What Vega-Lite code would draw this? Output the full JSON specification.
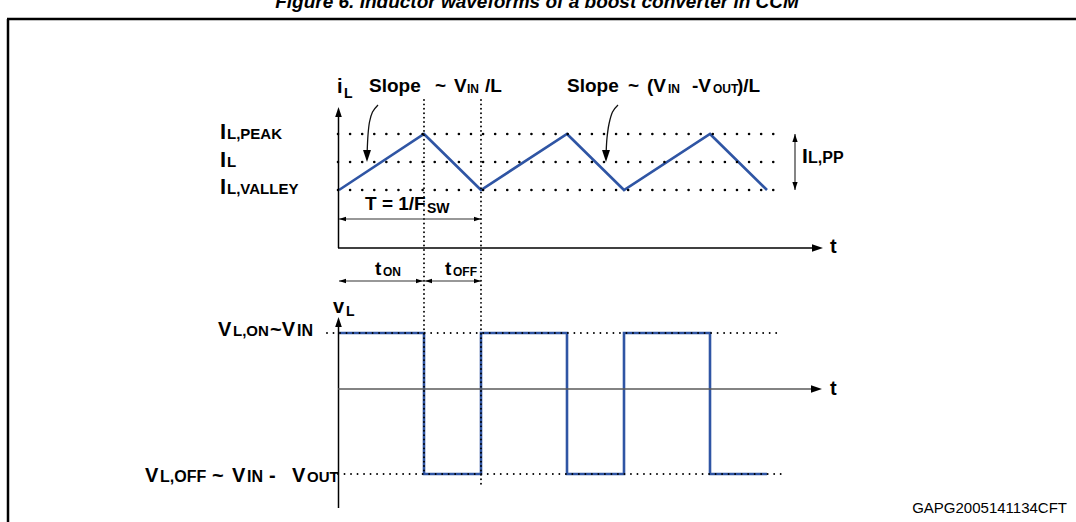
{
 "$schema": "https://vega.github.io/schema/vega-lite/v6.json",
 "width": 1076, "height": 522, "autosize": "none", "padding": 0,
 "background": "white",
 "config": {"view": {"stroke": null}},
 "datasets": {
  "frame": [{"x":7,"x2":1076,"y":19,"y2":19},{"x":8,"x2":8,"y":19,"y2":522}],
  "tri": [{"o":0,"x":339,"y":190},{"o":1,"x":424,"y":134},{"o":2,"x":481,"y":190},{"o":3,"x":567,"y":134},{"o":4,"x":624,"y":190},{"o":5,"x":710,"y":134},{"o":6,"x":767,"y":190}],
  "sq": [{"o":0,"x":339,"y":333},{"o":1,"x":424,"y":333},{"o":2,"x":424,"y":474},{"o":3,"x":481,"y":474},{"o":4,"x":481,"y":333},{"o":5,"x":567,"y":333},{"o":6,"x":567,"y":474},{"o":7,"x":624,"y":474},{"o":8,"x":624,"y":333},{"o":9,"x":710,"y":333},{"o":10,"x":710,"y":474},{"o":11,"x":767,"y":474}],
  "dotsBig": [{"x":338,"x2":773.5,"y":134,"y2":134},{"x":338,"x2":773.5,"y":162,"y2":162},{"x":338,"x2":773.5,"y":190,"y2":190}],
  "dotsV": [{"x":424,"x2":424,"y":100,"y2":474},{"x":481,"x2":481,"y":100,"y2":488}],
  "dotsLow": [{"x":327,"x2":782,"y":333,"y2":333},{"x":338,"x2":782,"y":474,"y2":474}],
  "axes": [{"x":338.5,"x2":338.5,"y":248,"y2":112},{"x":338,"x2":814,"y":248,"y2":248},{"x":338.5,"x2":338.5,"y":508,"y2":322}],
  "gaxis": [{"x":338,"x2":814,"y":389,"y2":389}],
  "dim": [{"x":339,"x2":481,"y":219,"y2":219},{"x":339,"x2":424,"y":281,"y2":281},{"x":424,"x2":481,"y":281,"y2":281},{"x":795,"x2":795,"y":134,"y2":190}],
  "curves": [
   {"g":1,"o":0,"x":378,"y":105},{"g":1,"o":1,"x":372.5,"y":112},{"g":1,"o":2,"x":369.5,"y":122},{"g":1,"o":3,"x":368,"y":135},{"g":1,"o":4,"x":367.2,"y":151},
   {"g":2,"o":0,"x":618,"y":105},{"g":2,"o":1,"x":612.5,"y":112},{"g":2,"o":2,"x":609,"y":124},{"g":2,"o":3,"x":607,"y":138},{"g":2,"o":4,"x":606.2,"y":151}
  ],
  "heads": [
   {"x":338.5,"y":107,"a":0,"s":100},
   {"x":823,"y":248,"a":90,"s":121},
   {"x":338.5,"y":317,"a":0,"s":100},
   {"x":822,"y":389,"a":90,"s":121},
   {"x":339,"y":219,"a":270,"s":49},
   {"x":481,"y":219,"a":90,"s":49},
   {"x":339,"y":281,"a":270,"s":49},
   {"x":423,"y":281,"a":90,"s":49},
   {"x":425,"y":281,"a":270,"s":49},
   {"x":481,"y":281,"a":90,"s":49},
   {"x":795,"y":134,"a":0,"s":64},
   {"x":795,"y":190,"a":180,"s":64},
   {"x":367,"y":162,"a":180,"s":144},
   {"x":606,"y":162,"a":180,"s":144}
  ],
  "texts": [
   {"t":"i","x":337,"y":93,"s":20},
   {"t":"L","x":344,"y":98,"s":14},
   {"t":"Slope","x":369,"y":92,"s":19},
   {"t":"~","x":435,"y":92,"s":19},
   {"t":"V","x":454,"y":92,"s":19},
   {"t":"IN","x":467,"y":93,"s":12},
   {"t":"/L","x":485,"y":92,"s":19},
   {"t":"Slope","x":567,"y":92,"s":19},
   {"t":"~","x":628,"y":92,"s":19},
   {"t":"(V","x":647,"y":92,"s":19},
   {"t":"IN","x":668,"y":93,"s":12},
   {"t":"-V","x":692,"y":92,"s":19},
   {"t":"OUT","x":713,"y":93,"s":12},
   {"t":")/L","x":737,"y":92,"s":19},
   {"t":"I","x":220,"y":139,"s":22},
   {"t":"L,PEAK","x":227,"y":139,"s":15},
   {"t":"I","x":220,"y":167,"s":22},
   {"t":"L","x":227,"y":167,"s":15},
   {"t":"I","x":220,"y":194,"s":22},
   {"t":"L,VALLEY","x":227,"y":194,"s":15},
   {"t":"T = 1/F","x":365,"y":210,"s":19},
   {"t":"SW","x":427,"y":213,"s":14},
   {"t":"I","x":802,"y":163,"s":21},
   {"t":"L,PP","x":808,"y":163,"s":16},
   {"t":"t","x":830,"y":253,"s":20},
   {"t":"t","x":830,"y":395,"s":20},
   {"t":"t","x":375,"y":275,"s":19},
   {"t":"ON","x":383,"y":276,"s":12},
   {"t":"t","x":445,"y":275,"s":19},
   {"t":"OFF","x":453,"y":276,"s":12},
   {"t":"v","x":333,"y":313,"s":20},
   {"t":"L","x":346,"y":316,"s":14},
   {"t":"V","x":218,"y":336,"s":20},
   {"t":"L,ON","x":233,"y":336,"s":15},
   {"t":"~V","x":270,"y":336,"s":20},
   {"t":"IN","x":297,"y":336,"s":16},
   {"t":"V","x":145,"y":482,"s":20},
   {"t":"L,OFF","x":160,"y":482,"s":16},
   {"t":"~","x":212,"y":482,"s":20},
   {"t":"V","x":232,"y":482,"s":20},
   {"t":"IN","x":247,"y":482,"s":16},
   {"t":"-","x":269,"y":482,"s":20},
   {"t":"V","x":292,"y":482,"s":20},
   {"t":"OUT","x":307,"y":482,"s":15}
  ],
  "title": [{"t":"Figure 6. Inductor waveforms of a boost converter in CCM","x":537,"y":8}],
  "code": [{"t":"GAPG2005141134CFT","x":1067,"y":513}]
 },
 "encoding": {
  "x": {"field":"x","type":"quantitative","scale":{"domain":[0,1076],"nice":false,"zero":false},"axis":null},
  "y": {"field":"y","type":"quantitative","scale":{"domain":[0,522],"nice":false,"zero":false,"reverse":true},"axis":null}
 },
 "layer": [
  {"data":{"name":"frame"},"mark":{"type":"rule","strokeWidth":2.5,"color":"#000"},"encoding":{"x2":{"field":"x2"},"y2":{"field":"y2"}}},
  {"data":{"name":"tri"},"mark":{"type":"line","color":"#2F55A4","strokeWidth":2.6,"strokeJoin":"miter"},"encoding":{"order":{"field":"o","type":"quantitative"}}},
  {"data":{"name":"sq"},"mark":{"type":"line","color":"#2F55A4","strokeWidth":2.6,"strokeJoin":"miter"},"encoding":{"order":{"field":"o","type":"quantitative"}}},
  {"data":{"name":"dotsBig"},"mark":{"type":"rule","strokeWidth":2.6,"strokeCap":"round","strokeDash":[0.01,12.08],"color":"#000"},"encoding":{"x2":{"field":"x2"},"y2":{"field":"y2"}}},
  {"data":{"name":"dotsV"},"mark":{"type":"rule","strokeWidth":1.9,"strokeCap":"round","strokeDash":[0.01,4.4],"color":"#000"},"encoding":{"x2":{"field":"x2"},"y2":{"field":"y2"}}},
  {"data":{"name":"dotsLow"},"mark":{"type":"rule","strokeWidth":1.9,"strokeCap":"round","strokeDash":[0.01,6.5],"color":"#000"},"encoding":{"x2":{"field":"x2"},"y2":{"field":"y2"}}},
  {"data":{"name":"axes"},"mark":{"type":"rule","strokeWidth":1.5,"color":"#000"},"encoding":{"x2":{"field":"x2"},"y2":{"field":"y2"}}},
  {"data":{"name":"gaxis"},"mark":{"type":"rule","strokeWidth":1.3,"color":"#5a5a5a"},"encoding":{"x2":{"field":"x2"},"y2":{"field":"y2"}}},
  {"data":{"name":"dim"},"mark":{"type":"rule","strokeWidth":1.2,"color":"#333"},"encoding":{"x2":{"field":"x2"},"y2":{"field":"y2"}}},
  {"data":{"name":"curves"},"mark":{"type":"line","color":"#111","strokeWidth":1.3,"interpolate":"cardinal"},"encoding":{"detail":{"field":"g","type":"nominal"},"order":{"field":"o","type":"quantitative"}}},
  {"data":{"name":"heads"},"mark":{"type":"point","shape":"M0,0L0.66,2L-0.66,2Z","filled":true,"color":"#000","opacity":1,"strokeWidth":0},"encoding":{"angle":{"field":"a","type":"quantitative","scale":null},"size":{"field":"s","type":"quantitative","scale":null}}},
  {"data":{"name":"texts"},"mark":{"type":"text","align":"left","baseline":"alphabetic","font":"Liberation Sans","fontWeight":"bold","color":"#000"},"encoding":{"text":{"field":"t"},"size":{"field":"s","type":"quantitative","scale":null}}},
  {"data":{"name":"title"},"mark":{"type":"text","align":"center","baseline":"alphabetic","font":"Liberation Sans","fontWeight":"bold","fontStyle":"italic","fontSize":19,"color":"#000"},"encoding":{"text":{"field":"t"}}},
  {"data":{"name":"code"},"mark":{"type":"text","align":"right","baseline":"alphabetic","font":"Liberation Sans","fontSize":15,"color":"#000"},"encoding":{"text":{"field":"t"}}}
 ]
}
